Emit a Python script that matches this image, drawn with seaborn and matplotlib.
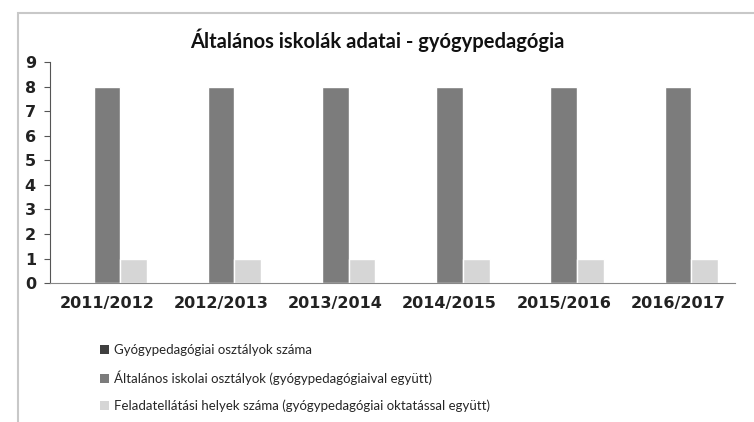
import pandas as pd
import matplotlib
matplotlib.use("Agg")
import matplotlib.pyplot as plt
import seaborn as sns
from matplotlib.patches import Rectangle, Patch

years = ['2011/2012', '2012/2013', '2013/2014', '2014/2015', '2015/2016', '2016/2017']
series = ['Gyógypedagógiai osztályok száma',
          'Általános iskolai osztályok (gyógypedagógiaival együtt)',
          'Feladatellátási helyek száma (gyógypedagógiai oktatással együtt)']
gyogy = [0, 0, 0, 0, 0, 0]
altalanos = [8, 8, 8, 8, 8, 8]
helyek = [1, 1, 1, 1, 1, 1]
colors = ['#3f3f3f', '#7c7c7c', '#d6d6d6']

rows = []
for i, y in enumerate(years):
    rows.append([y, series[0], gyogy[i]])
    rows.append([y, series[1], altalanos[i]])
    rows.append([y, series[2], helyek[i]])
df = pd.DataFrame(rows, columns=['ev', 'sorozat', 'ertek'])

sns.set_style('white')
fig = plt.figure(figsize=(7.54, 4.22), dpi=100)
ax = fig.add_axes([0.066, 0.329, 0.909, 0.524])

sns.barplot(data=df, x='ev', y='ertek', hue='sorozat', palette=colors,
            width=0.7, ax=ax, legend=False, saturation=1)

ax.set_ylim(0, 9)
ax.set_yticks(range(10))
ax.set_xlabel('')
ax.set_ylabel('')
for s in ['top', 'right']:
    ax.spines[s].set_visible(False)
ax.spines['left'].set_color('#555555')
ax.spines['bottom'].set_color('#888888')
ax.spines['left'].set_linewidth(0.8)
ax.tick_params(axis='y', which='both', left=True, length=4, color='#555555', pad=6)
ax.tick_params(axis='x', bottom=False, pad=6)
for lab in ax.get_yticklabels() + ax.get_xticklabels():
    lab.set_fontfamily('DejaVu Sans')
    lab.set_fontweight('bold')
    lab.set_fontsize(11.5)
    lab.set_color('#222222')

fig.text(0.5, 0.905, 'Általános iskolák adatai - gyógypedagógia', ha='center', va='center',
         fontsize=14.5, fontweight='bold', family='Lato', color='#111111')

handles = [Patch(facecolor=c, edgecolor='none') for c in colors]
fig.legend(handles, series, loc='upper left', bbox_to_anchor=(0.125, 0.197),
           frameon=False, prop={'family': 'Lato', 'size': 9.5}, labelspacing=1.1,
           handlelength=0.7, handleheight=0.7, handletextpad=0.4, borderaxespad=0)

fig.patches.append(Rectangle((0.024, -0.01), 0.99, 0.98, transform=fig.transFigure,
                             fill=False, edgecolor='#c8c8c8', linewidth=1.5))

fig.savefig('out.png', dpi=100)
